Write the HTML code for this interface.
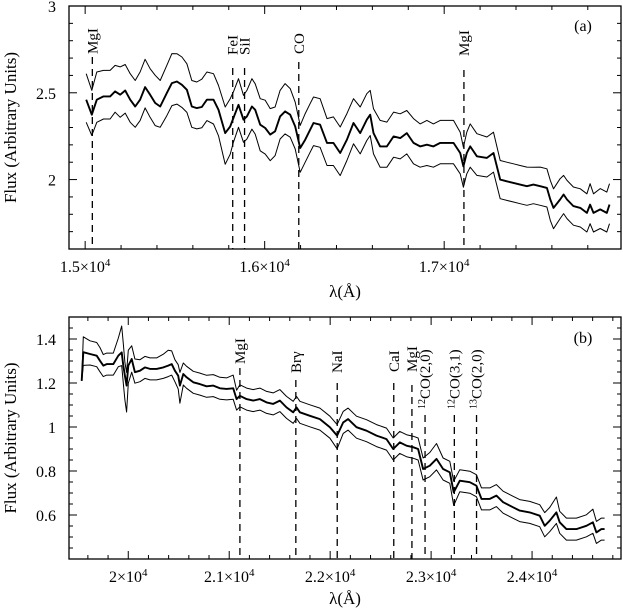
<!DOCTYPE html>
<html><head><meta charset="utf-8"><style>
html,body{margin:0;padding:0;background:#fff}
svg{display:block}
text{font-family:"Liberation Serif",serif;fill:#000}
</style></head><body>
<svg id="chart" width="623" height="614" viewBox="0 0 623 614" xmlns="http://www.w3.org/2000/svg"></svg>
<script>
// ---------- Panel (a) data ----------
const lamA = [15006,15037,15065,15102,15139,15167,15195,15223,15251,15279,15306,15334,15362,15390,15418,15455,15483,15511,15539,15567,15594,15622,15650,15678,15715,15743,15780,15808,15826,15854,15882,15901,15929,15947,15975,16003,16031,16058,16086,16114,16142,16170,16198,16226,16253,
 16272,16309,16347,16383,16421,16458,16495,16532,16569,16588,16606,16643,16681,16718,16755,16792,16829,16866,16904,16940,16978,17015,17052,17089,17107,17126,17145,17182,17238,17275,17312,17349,17386,17423,17461,17497,17535,17572,17591,17609,17646,17665,17684,17720,17758,17795,17813,17832,17869,17906,17921];
const midA = [2.460,2.374,2.460,2.479,2.479,2.508,2.489,2.513,2.460,2.421,2.460,2.533,2.489,2.441,2.421,2.498,2.556,2.565,2.546,2.517,2.421,2.412,2.418,2.460,2.460,2.402,2.268,2.306,2.355,2.431,2.345,2.364,2.421,2.402,2.316,2.297,2.259,2.278,2.364,2.393,2.374,2.306,2.182,2.230,2.287,
 2.326,2.316,2.211,2.211,2.153,2.230,2.326,2.268,2.345,2.374,2.268,2.191,2.191,2.249,2.239,2.268,2.211,2.191,2.201,2.191,2.211,2.211,2.211,2.153,2.076,2.153,2.191,2.134,2.125,2.153,2.0,1.990,1.981,1.971,1.962,1.971,1.962,1.952,1.885,1.837,1.885,1.914,1.885,1.847,1.837,1.808,1.856,1.808,1.828,1.808,1.856];
const upOffA = [0.15,0.14,0.16,0.15,0.15,0.15,0.16,0.15,0.15,0.15,0.16,0.16,0.15,0.16,0.15,0.16,0.17,0.16,0.16,0.15,0.15,0.15,0.16,0.16,0.15,0.14,0.15,0.16,0.15,0.15,0.14,0.15,0.16,0.15,0.15,0.16,0.15,0.14,0.15,0.16,0.15,0.14,0.13,0.15,0.15,
 0.15,0.15,0.14,0.15,0.15,0.15,0.14,0.15,0.15,0.14,0.14,0.15,0.14,0.14,0.14,0.13,0.14,0.13,0.14,0.13,0.13,0.13,0.13,0.12,0.11,0.12,0.13,0.13,0.12,0.12,0.11,0.11,0.11,0.11,0.11,0.10,0.11,0.11,0.11,0.11,0.12,0.11,0.11,0.11,0.11,0.11,0.12,0.11,0.12,0.12,0.12];
const loOffA = [0.13,0.12,0.13,0.13,0.13,0.12,0.13,0.13,0.13,0.12,0.12,0.12,0.13,0.13,0.12,0.13,0.13,0.13,0.13,0.13,0.12,0.12,0.12,0.12,0.14,0.15,0.18,0.16,0.14,0.13,0.13,0.13,0.13,0.14,0.15,0.15,0.15,0.14,0.13,0.13,0.13,0.13,0.14,0.13,0.13,
 0.13,0.13,0.13,0.13,0.13,0.12,0.12,0.12,0.12,0.12,0.12,0.12,0.12,0.12,0.12,0.12,0.12,0.12,0.12,0.12,0.12,0.12,0.12,0.12,0.12,0.12,0.12,0.11,0.11,0.11,0.11,0.11,0.11,0.11,0.11,0.11,0.11,0.11,0.12,0.12,0.11,0.11,0.11,0.11,0.11,0.11,0.11,0.11,0.11,0.11,0.11];
const linesA = [15040,15822,15888,16190,17110];
const linesALabel = ["MgI","FeI","SiI","CO","MgI"];
const yTicksA = [2,2.5,3];
const xTicksA = [15000,16000,17000];
const xTickLabelsA = ["1.5","1.6","1.7"];

// ---------- Panel (b) data ----------
const lamB = [19539,19555,19621,19687,19720,19753,19786,19852,19901,19935,19951,19967,19984,20000,20034,20066,20116,20165,20215,20281,20347,20396,20430,20462,20495,20512,20545,20578,20644,20710,20776,20842,20908,20974,21040,21073,21106,21172,21238,21304,21370,21436,21502,21568,21634,21667,21700,21799,21898,
 21997,22069,22129,22178,22261,22360,22459,22558,22624,22690,22756,22822,22871,22921,22987,23053,23119,23185,23224,23284,23383,23449,23499,23581,23647,23713,23812,23878,23977,24076,24125,24175,24241,24274,24340,24439,24538,24603,24637,24687,24719];
const midB = [1.21,1.34,1.332,1.324,1.301,1.279,1.286,1.286,1.324,1.339,1.279,1.233,1.188,1.279,1.309,1.249,1.256,1.271,1.264,1.264,1.271,1.279,1.286,1.256,1.233,1.188,1.241,1.226,1.203,1.195,1.185,1.188,1.176,1.173,1.176,1.127,1.142,1.127,1.120,1.127,1.112,1.105,1.120,1.089,1.067,1.089,1.067,1.051,1.036,
 0.999,0.961,1.021,1.036,0.999,0.983,0.961,0.945,0.9,0.930,0.915,0.908,0.9,0.809,0.824,0.855,0.809,0.794,0.703,0.756,0.749,0.733,0.673,0.673,0.688,0.658,0.635,0.620,0.612,0.597,0.551,0.574,0.612,0.567,0.536,0.536,0.551,0.567,0.521,0.536,0.536];
const upOffB = [0,0.07,0.06,0.06,0.06,0.05,0.05,0.05,0.08,0.12,0.10,0.06,0.06,0.07,0.06,0.06,0.05,0.05,0.05,0.05,0.06,0.07,0.06,0.05,0.05,0.06,0.05,0.05,0.05,0.05,0.05,0.05,0.05,0.05,0.06,0.04,0.05,0.05,0.05,0.05,0.05,0.05,0.05,0.05,0.05,0.05,0.05,0.05,0.05,
 0.05,0.05,0.05,0.05,0.05,0.05,0.05,0.05,0.05,0.05,0.05,0.05,0.05,0.05,0.06,0.07,0.05,0.05,0.05,0.05,0.05,0.05,0.05,0.05,0.05,0.05,0.05,0.05,0.05,0.05,0.06,0.06,0.07,0.05,0.05,0.05,0.05,0.06,0.05,0.05,0.05];
const loOffB = [0,0.06,0.05,0.05,0.05,0.05,0.05,0.05,0.05,0.06,0.08,0.11,0.12,0.08,0.06,0.05,0.05,0.05,0.05,0.05,0.05,0.05,0.05,0.05,0.06,0.08,0.05,0.05,0.05,0.05,0.05,0.05,0.05,0.05,0.05,0.05,0.05,0.05,0.05,0.05,0.05,0.05,0.05,0.05,0.05,0.05,0.05,0.05,0.05,
 0.05,0.06,0.05,0.05,0.05,0.05,0.05,0.05,0.05,0.05,0.05,0.05,0.05,0.05,0.05,0.05,0.05,0.05,0.06,0.05,0.05,0.05,0.05,0.05,0.05,0.05,0.05,0.05,0.05,0.05,0.05,0.05,0.05,0.05,0.05,0.05,0.05,0.05,0.05,0.05,0.05];
const linesB = [21106,21660,22070,22630,22810,22940,23230,23450];
const linesBLabel = ["MgI","Brγ","NaI","CaI","MgI","12|CO(2,0)","12|CO(3,1)","13|CO(2,0)"];
const yTicksB = [0.6,0.8,1,1.2,1.4];
const xTicksB = [20000,21000,22000,23000,24000];
const xTickLabelsB = ["2","2.1","2.2","2.3","2.4"];

const NS="http://www.w3.org/2000/svg";
const svg=document.getElementById('chart');
function el(tag,attrs,parent){const e=document.createElementNS(NS,tag);for(const k in attrs)e.setAttribute(k,attrs[k]);(parent||svg).appendChild(e);return e;}

function panel(cfg){
  const g=el('g',{});
  
  
  const L=69,R=621,T=cfg.top,B=cfg.bottom;
  const X=l=>L+(l-cfg.xmin)/(cfg.xmax-cfg.xmin)*(R-L);
  const Y=v=>T+(cfg.ymax-v)/(cfg.ymax-cfg.ymin)*(B-T);
  const fr=el('rect',{x:L,y:T,width:R-L,height:B-T,fill:'none',stroke:'#000','stroke-width':1.3},g);
  
  
  for(let l=Math.ceil(cfg.xmin/cfg.xMinor)*cfg.xMinor;l<=cfg.xmax;l+=cfg.xMinor){
    const maj=Math.abs(l/1000-Math.round(l/1000))<1e-6;const len=maj?8:4;const x=X(l);
    const t1=el('line',{x1:x,y1:B,x2:x,y2:B-len,stroke:'#000','stroke-width':1},g);
    
    
    const t2=el('line',{x1:x,y1:T,x2:x,y2:T+len,stroke:'#000','stroke-width':1},g);
    
    
  }
  const nMin=Math.round((cfg.ymax-cfg.ymin)/cfg.yMinor);
  for(let i=0;i<=nMin;i++){
    const v=cfg.ymin+i*cfg.yMinor;const r=v/cfg.yMajor;const maj=Math.abs(r-Math.round(r))<1e-6;const len=maj?8:4;const y=Y(v);
    const t1=el('line',{x1:L,y1:y,x2:L+len,y2:y,stroke:'#000','stroke-width':1},g);
    
    
    const t2=el('line',{x1:R,y1:y,x2:R-len,y2:y,stroke:'#000','stroke-width':1},g);
    
    
  }
  cfg.yTicks.forEach(v=>{
    const t=el('text',{x:56,y:Y(v)+6,'text-anchor':'end','font-size':16},g);
    
    
    t.textContent=String(v);
  });
  cfg.xTicks.forEach((l,i)=>{
    const t=el('text',{x:X(l),y:B+23,'text-anchor':'middle','font-size':16},g);
    
    
    t.textContent=cfg.xLabels[i]+'×10';
    const s=el('tspan',{dy:-6,'font-size':11},t);s.textContent='4';
  });
  const xt=el('text',{x:345,y:cfg.xTitleY,'text-anchor':'middle','font-size':17},g);
  
  
  xt.textContent='λ(Å)';
  const yt=el('text',{x:0,y:0,'text-anchor':'middle','font-size':17,transform:`translate(16,${(T+B)/2}) rotate(-90)`},g);
  
  
  yt.textContent='Flux (Arbitrary Units)';
  const pl=el('text',{x:583,y:T+cfg.tagDy,'text-anchor':'middle','font-size':16},g);
  
  
  pl.textContent=cfg.tag;
  cfg.lines.forEach((l,i)=>{
    const x=X(l);
    const d=el('line',{x1:x,y1:cfg.lineTop[i],x2:x,y2:B,stroke:'#000','stroke-width':1.3,'stroke-dasharray':'7,5'},g);
    
    
    const lab=cfg.labels[i];
    const t=el('text',{x:0,y:0,'text-anchor':'start','font-size':15,transform:`translate(${x+5},${cfg.labelBottom[i]}) rotate(-90)`},g);
    
    
    if(lab.indexOf('|')>=0){
      const p=lab.split('|');
      const s=el('tspan',{'font-size':10,dy:-5},t);s.textContent=p[0];
      const m=el('tspan',{dy:5},t);m.textContent=p[1];
    } else t.textContent=lab;
  });
  const series=[['upper',cfg.mid.map((v,i)=>v+cfg.up[i]),1],['mean',cfg.mid,1.9],['lower',cfg.mid.map((v,i)=>v-cfg.lo[i]),1]];
  series.forEach(([nm,vals,w])=>{
    let d='';
    cfg.lam.forEach((l,i)=>{d+=(i?'L':'M')+X(l).toFixed(1)+','+Y(vals[i]).toFixed(1);});
    const p=el('path',{d:d,fill:'none',stroke:'#000','stroke-width':w,'stroke-linejoin':'round'},g);
    
    
  });
}

panel({name:'panel-a',top:6,bottom:249,xmin:14910,xmax:17985,ymin:1.6,ymax:3,xMinor:200,yMinor:0.1,yMajor:0.5,
  yTicks:yTicksA,xTicks:xTicksA,xLabels:xTickLabelsA,xTitleY:297,tag:'(a)',tagDy:25,
  lines:linesA,labels:linesALabel,lineTop:[57,68,68,62,70],labelBottom:[54,55,55,54,56],
  lam:lamA,mid:midA,up:upOffA,lo:loOffA});
panel({name:'panel-b',top:317,bottom:559,xmin:19413,xmax:24881,ymin:0.4,ymax:1.5,xMinor:200,yMinor:0.05,yMajor:0.2,
  yTicks:yTicksB,xTicks:xTicksB,xLabels:xTickLabelsB,xTitleY:604,tag:'(b)',tagDy:26,
  lines:linesB,labels:linesBLabel,lineTop:[368,380,383,383,385,415,415,415],labelBottom:[364,373,373,372,372,409,409,409],
  lam:lamB,mid:midB,up:upOffB,lo:loOffB});
</script>
</body></html>
